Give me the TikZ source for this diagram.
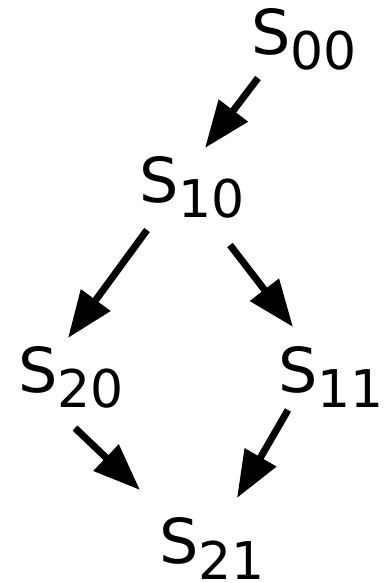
\documentclass[tikz,border=0pt]{standalone}
\usepackage{fontspec}
\setmainfont{DejaVu Sans}
\usetikzlibrary{arrows.meta}
\newcommand{\stlabel}[1]{\fontsize{62}{62}\selectfont S\raisebox{-15pt}{\fontsize{52}{52}\selectfont #1}}
\begin{document}
\begin{tikzpicture}[x=1pt,y=1pt,
  state/.style={inner sep=0pt, anchor=base west},
  arr/.style={line width=7pt, -{Triangle[length=47pt,width=35pt]}}]
\useasboundingbox (0,0) rectangle (384,583);
\node[state] (s00) at (251,528) {\stlabel{00}};
\node[state] (s10) at (139,380) {\stlabel{10}};
\node[state] (s20) at (18,190) {\stlabel{20}};
\node[state] (s11) at (278,190) {\stlabel{11}};
\node[state] (s21) at (159,19) {\stlabel{21}};
\coordinate (a1s) at (258,505); \coordinate (a1e) at (205,435);
\coordinate (a2s) at (147,353); \coordinate (a2e) at (68,245);
\coordinate (a3s) at (230,338); \coordinate (a3e) at (293,256);
\coordinate (a4s) at (75,155);  \coordinate (a4e) at (140,93);
\coordinate (a5s) at (288,173); \coordinate (a5e) at (237,85);
\draw[arr] (a1s) -- (a1e);
\draw[arr] (a2s) -- (a2e);
\draw[arr] (a3s) -- (a3e);
\draw[arr] (a4s) -- (a4e);
\draw[arr] (a5s) -- (a5e);
\end{tikzpicture}
\end{document}
